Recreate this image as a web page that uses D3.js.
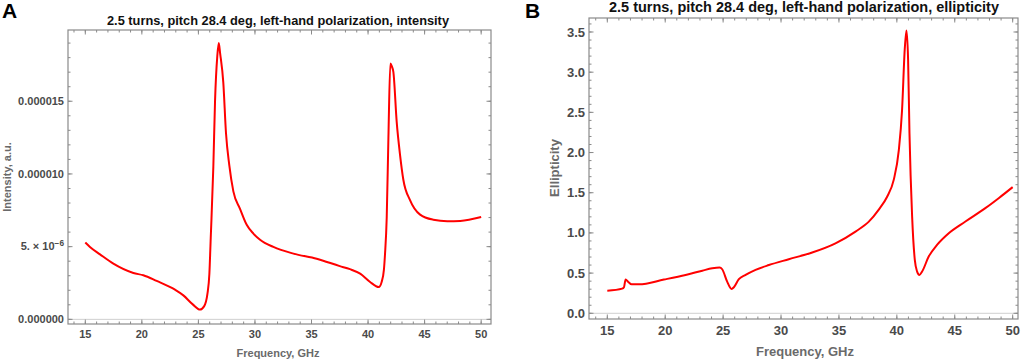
<!DOCTYPE html>
<html><head><meta charset="utf-8">
<script src="https://cdn.jsdelivr.net/npm/d3@7"></script>
<style>
html,body{margin:0;padding:0;background:#fff;}
svg{display:block;font-family:"Liberation Sans",Arial,sans-serif;}
</style></head>
<body><svg id="c" width="1024" height="362"></svg>
<script>
// ---- Data: panel A (intensity, a.u.) ----
const freqA = [15,15.41,16.3,17.48,19.25,20.13,21.31,22.93,23.67,24.5,25.14,25.5,25.8,25.97,26.09,26.32,26.47,26.67,26.8,26.92,27.2,27.44,27.73,28.09,28.68,29.27,29.86,30.45,31.63,33.4,35.46,37.5,38.4,39.3,40.18,40.95,41.2,41.4,41.5,41.65,41.8,41.97,42.1,42.24,42.53,42.83,43.12,43.71,44.6,45.77,47.0,48.15,50];
const intensity = [5.28e-6,4.98e-6,4.47e-6,3.83e-6,3.19e-6,3.03e-6,2.64e-6,2.04e-6,1.65e-6,1.03e-6,0.67e-6,0.89e-6,1.77e-6,3.14e-6,5.6e-6,10.5e-6,15.0e-6,18.1e-6,19.0e-6,18.3e-6,16.3e-6,12.8e-6,10.6e-6,8.8e-6,7.6e-6,6.5e-6,5.9e-6,5.48e-6,4.98e-6,4.52e-6,4.17e-6,3.66e-6,3.45e-6,3.14e-6,2.57e-6,2.22e-6,2.57e-6,3.4e-6,4.5e-6,7.0e-6,12.5e-6,17.6e-6,17.4e-6,17.0e-6,13.6e-6,11.3e-6,9.6e-6,8.2e-6,7.2e-6,6.85e-6,6.75e-6,6.77e-6,7.04e-6];
const ticksA_x = [15,20,25,30,35,40,45,50];
const ticksA_y = [0,5e-6,1e-5,1.5e-5];
const tickLabelsA_y = ["0.000000","5. × 10|−6","0.000010","0.000015"];

// ---- Data: panel B (ellipticity) ----
const freqB = [15,16.29,16.44,16.58,16.81,17.1,17.73,19.89,21.76,23.2,24.06,24.69,24.92,25.35,25.73,25.93,26.36,26.94,27.8,28.95,30.67,32.69,34.7,36.43,37.58,38.44,39.16,39.73,40.17,40.45,40.68,40.83,40.97,41.09,41.32,41.55,41.75,41.95,42.18,42.75,43.47,44.48,45.92,47.64,48.79,50];
const ellipticity = [0.282,0.307,0.324,0.42,0.39,0.36,0.36,0.42,0.477,0.53,0.56,0.57,0.548,0.394,0.303,0.324,0.424,0.477,0.54,0.60,0.673,0.756,0.87,1.017,1.14,1.29,1.45,1.66,2.03,2.53,3.28,3.52,3.16,2.24,1.20,0.664,0.519,0.477,0.519,0.706,0.851,0.996,1.142,1.308,1.432,1.57];
const ticksB_x = [15,20,25,30,35,40,45,50];
const ticksB_y = [0,0.5,1,1.5,2,2.5,3,3.5];
const tickLabelsB_y = ["0.0","0.5","1.0","1.5","2.0","2.5","3.0","3.5"];

const titles = ["2.5 turns, pitch 28.4 deg, left-hand polarization, intensity",
                "2.5 turns, pitch 28.4 deg, left-hand polarization, ellipticity"];
const xTitle = "Frequency, GHz";
const yTitles = ["Intensity, a.u.","Ellipticity"];
const panelLetters = ["A","B"];

const svg = d3.select("#c");

function fitText(sel, width){
  const w = sel.node().getComputedTextLength();
  const fs = parseFloat(sel.attr("font-size"));
  sel.attr("font-size", (fs*width/w).toFixed(2));
}

function panel(cfg){
  const g = svg.append("g");
  const x = d3.scaleLinear().domain(cfg.xDom).range([cfg.left, cfg.right]);
  const y = d3.scaleLinear().domain(cfg.yDom).range([cfg.bottom, cfg.top]);
  const frame = "#8a8a8a";
  g.append("line").attr("x1",cfg.left).attr("x2",cfg.right)
    .attr("y1",y(0)).attr("y2",y(0)).attr("stroke","#cfcfcf").attr("stroke-width",1);
  g.append("rect").attr("x",cfg.left).attr("y",cfg.top)
    .attr("width",cfg.right-cfg.left).attr("height",cfg.bottom-cfg.top)
    .attr("fill","none").attr("stroke",frame).attr("stroke-width",1.2);
  const tk = (vals, len, axisFn) => vals.forEach(axisFn(len));
  const xMinor = d3.range(14, 51, 1).filter(v => v>=cfg.xDom[0] && v<=cfg.xDom[1]);
  const yMinor = d3.range(0, cfg.yDom[1], cfg.yMinorStep).filter(v => v<=cfg.yDom[1]);
  function xt(len){ return v => {
    g.append("line").attr("x1",x(v)).attr("x2",x(v)).attr("y1",cfg.bottom).attr("y2",cfg.bottom-len).attr("stroke",frame);
    g.append("line").attr("x1",x(v)).attr("x2",x(v)).attr("y1",cfg.top).attr("y2",cfg.top+len).attr("stroke",frame);
  };}
  function yt(len){ return v => {
    g.append("line").attr("y1",y(v)).attr("y2",y(v)).attr("x1",cfg.left).attr("x2",cfg.left+len).attr("stroke",frame);
    g.append("line").attr("y1",y(v)).attr("y2",y(v)).attr("x1",cfg.right).attr("x2",cfg.right-len).attr("stroke",frame);
  };}
  tk(xMinor, 2.5, xt); tk(cfg.xTicks, 4.5, xt);
  tk(yMinor, 2.5, yt); tk(cfg.yTicks, 4.5, yt);
  const lc = "#4a4a4a";
  g.selectAll(null).data(cfg.xTicks).enter().append("text")
    .attr("x", d=>x(d)).attr("y", cfg.xLabelY).attr("text-anchor","middle")
    .attr("font-size",cfg.tickFs).attr("font-weight",cfg.tickW).attr("fill",lc).text(d=>d);
  cfg.yTicks.forEach((v,i)=>{
    const lab = cfg.yLabels[i];
    const t = g.append("text").attr("x", cfg.left-4).attr("y", y(v)+cfg.tickFs*0.35)
      .attr("text-anchor","end").attr("font-size",cfg.tickFs).attr("font-weight",cfg.tickW).attr("fill",lc);
    if(lab.includes("|")){
      const [a,b] = lab.split("|");
      t.append("tspan").text(a);
      t.append("tspan").attr("dy",-cfg.tickFs*0.4).attr("font-size",cfg.tickFs*0.75).text(b);
    } else t.text(lab);
  });
  g.append("text").attr("x",cfg.xTitleX).attr("y",cfg.xTitleY).attr("text-anchor","middle")
    .attr("font-size",cfg.axFs).attr("font-weight","bold").attr("fill","#6a6a6a").text(xTitle);
  g.append("text").attr("transform",`translate(${cfg.yTitleX},${cfg.yTitleY}) rotate(-90)`)
    .attr("text-anchor","middle").attr("font-size",cfg.axFs).attr("font-weight","bold")
    .attr("fill","#6a6a6a").text(cfg.yTitle);
  const tt = g.append("text").attr("x",cfg.titleX).attr("y",cfg.titleY).attr("text-anchor","middle")
    .attr("font-size",12).attr("font-weight","bold").attr("fill","#111").text(cfg.title);
  fitText(tt, cfg.titleW);
  g.append("text").attr("x",cfg.letterX).attr("y",18).attr("font-size",21)
    .attr("font-weight","bold").attr("fill","#000").text(cfg.letter);
  const line = d3.line().x(d=>x(d[0])).y(d=>y(d[1])).curve(d3.curveMonotoneX);
  g.append("path").datum(cfg.xs.map((f,i)=>[f,cfg.ys[i]]))
    .attr("d",line).attr("fill","none").attr("stroke","#ff0000")
    .attr("stroke-width",2).attr("stroke-linejoin","round");
}

panel({
  left:68, right:491, top:30, bottom:324,
  xDom:[13.47,50.87], yDom:[-0.32e-6,19.9e-6],
  xTicks:ticksA_x, yTicks:ticksA_y, yLabels:tickLabelsA_y, yMinorStep:1e-6,
  xs:freqA, ys:intensity,
  tickFs:11, tickW:"bold", xLabelY:338,
  axFs:11, xTitleX:278, xTitleY:357, yTitleX:11, yTitleY:177, yTitle:yTitles[0],
  title:titles[0], titleX:278, titleY:25, titleW:342,
  letter:panelLetters[0], letterX:2
});
panel({
  left:589, right:1018, top:18, bottom:319,
  xDom:[13.42,50.46], yDom:[-0.071,3.674],
  xTicks:ticksB_x, yTicks:ticksB_y, yLabels:tickLabelsB_y, yMinorStep:0.1,
  xs:freqB, ys:ellipticity,
  tickFs:13, tickW:"bold", xLabelY:335,
  axFs:13, xTitleX:805, xTitleY:356, yTitleX:559, yTitleY:168, yTitle:yTitles[1],
  title:titles[1], titleX:804, titleY:12, titleW:390,
  letter:panelLetters[1], letterX:525
});
</script></body></html>
